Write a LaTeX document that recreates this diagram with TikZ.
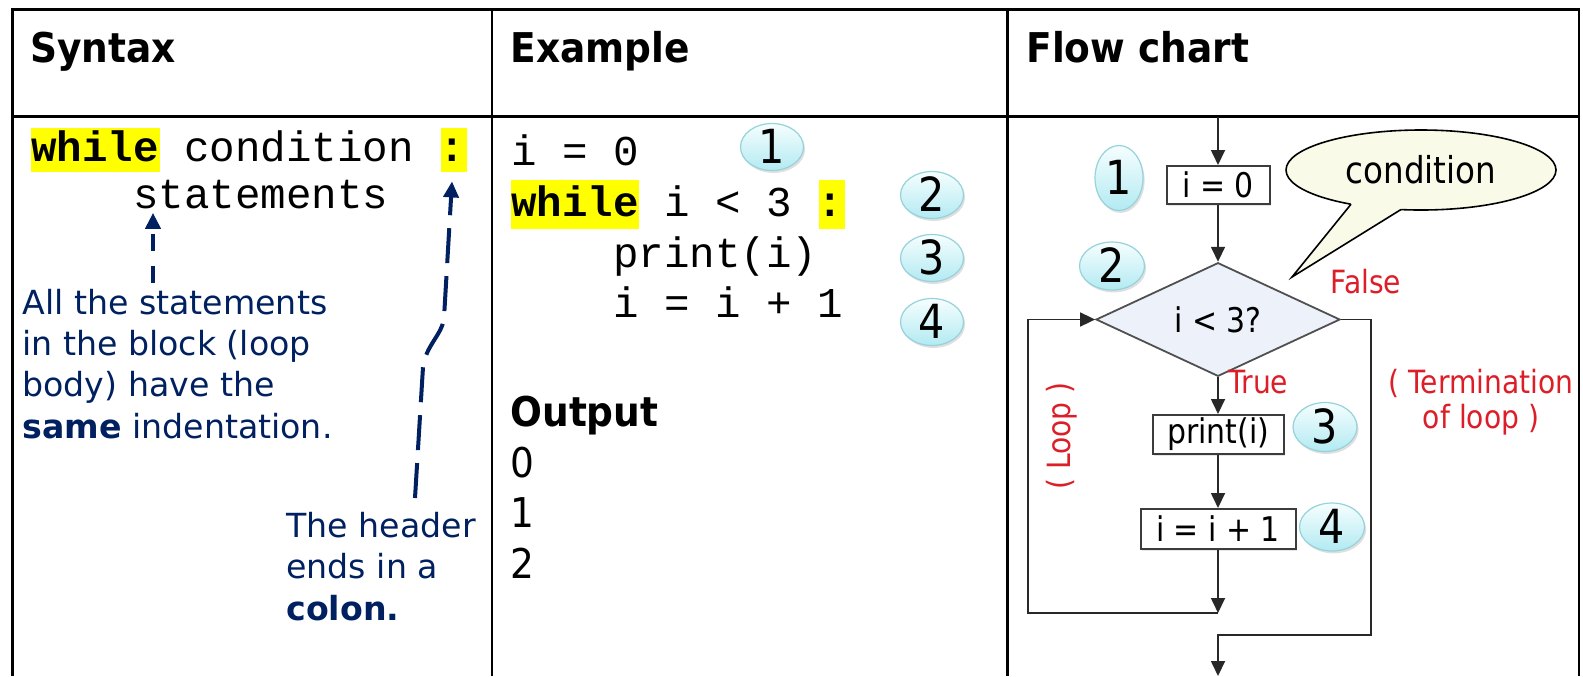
\documentclass[tikz,border=0pt]{standalone}
\usepackage{fontspec}
\setmainfont{DejaVu Sans}
\newfontfamily\headfont{DejaVu Sans}[FakeStretch=0.915]
\newfontfamily\chartfont{DejaVu Sans}[FakeStretch=0.88]
\newfontfamily\codefont{Liberation Mono}
\usetikzlibrary{arrows.meta,shapes.geometric,shadows,calc}

\definecolor{navy}{RGB}{0,32,96}
\definecolor{fcred}{RGB}{220,30,40}
\definecolor{hl}{RGB}{255,255,0}
\definecolor{badgetop}{RGB}{246,254,254}
\definecolor{badgebot}{RGB}{178,234,242}
\definecolor{badgeline}{RGB}{150,210,218}
\definecolor{cream}{RGB}{250,250,232}
\definecolor{diafill}{RGB}{236,241,250}
\definecolor{flowline}{RGB}{40,40,40}
\definecolor{boxline}{RGB}{60,60,60}

\begin{document}
\begin{tikzpicture}[x=0.5pt,y=-0.5pt,
  tbl/.style={line width=1.3pt,black},
  hd/.style={anchor=base west,inner sep=0,font=\headfont\bfseries\fontsize{20.5pt}{24pt}\selectfont},
  code/.style={anchor=base west,inner sep=0,font=\codefont\fontsize{21.25pt}{25pt}\selectfont},
  hlbox/.style={fill=hl,inner sep=0,draw=none},
  note/.style={anchor=base west,inner sep=0,align=left,text=navy,font=\fontsize{16.6pt}{20.65pt}\selectfont},
  ptr/.style={navy,line width=2pt,-{Triangle[length=8pt,width=7.5pt]}},
  badge/.style={ellipse,draw=badgeline,line width=0.6pt,top color=badgetop,bottom color=badgebot,
    inner sep=0,font=\chartfont\fontsize{23.5pt}{24pt}\selectfont,text height=16.5pt,text depth=0pt,
    drop shadow={opacity=0.25,shadow xshift=0.8pt,shadow yshift=-1.2pt}},
  wide/.style={minimum width=31.5pt,minimum height=23.5pt},
  fcbox/.style={rectangle,draw=boxline,line width=1pt,fill=white,inner sep=0,
    font=\chartfont\fontsize{17pt}{18pt}\selectfont,
    drop shadow={opacity=0.2,shadow xshift=0.8pt,shadow yshift=-0.8pt}},
  decision/.style={diamond,draw=boxline!90,line width=0.9pt,fill=diafill,inner sep=0,
    font=\chartfont\fontsize{17pt}{18pt}\selectfont},
  flow/.style={draw=flowline,line width=0.85pt},
  flowarr/.style={flow,-{Triangle[length=7.5pt,width=7pt]}},
  lbl/.style={text=fcred,inner sep=0,font=\chartfont\fontsize{16pt}{17.5pt}\selectfont}
]
\useasboundingbox (0,0) rectangle (1583,676);

% ---------- table frame ----------
\draw[tbl,line join=miter] (12.5,676) |- (1579,9.5) -- (1579,676);
\draw[tbl] (12.5,116.7) -- (1579,116.7);
\draw[tbl] (492,9.5) -- (492,676);
\draw[tbl] (1007.5,9.5) -- (1007.5,676);

\node[hd] (hsyn) at (30,62) {Syntax};
\node[hd] (hex) at (510,62) {Example};
\node[hd] (hfc) at (1026,62) {Flow chart};

% ---------- syntax column ----------
\node[hlbox,minimum width=64.5pt,minimum height=22pt] (kw1) at (95.5,150) {};
\node[hlbox,minimum width=13pt,minimum height=22pt] (col1) at (454,150) {};
\node[code] (syn1) at (31,161) {\textbf{while} condition \textbf{:}};
\node[code] (syn2) at (133,208) {statements};

% multi-line notes are anchored on the baseline of their last line
\node[note] (body) at (22,438) {All the statements\\in the block (loop\\body) have the\\\textbf{same} indentation.};
\node[note] (colnote) at (286,620) {The header\\ends in a\\\textbf{colon.}};

\coordinate (p1) at (153,283);
\draw[ptr,dash pattern=on 8.5pt off 7.5pt] (p1) -- ($(p1 |- syn2.south)+(0,4)$);
\coordinate (p2) at (415,498);
\draw[ptr,dash pattern=on 17.5pt off 6.5pt] (p2) -- (423,367) .. controls (426,345) and (442,335) .. (444,318) -- ($(col1.south)+(-2,9)$);

% ---------- example column ----------
\node[hlbox,minimum width=64pt,minimum height=24.5pt] (kw2) at (575,204.5) {};
\node[hlbox,minimum width=13pt,minimum height=24.5pt] (col2) at (832,204.5) {};
\node[code] (ex1) at (511,165) {i = 0};
\node[code] (ex2) at (511,216) {\textbf{while} i < 3 \textbf{:}};
\node[code] (ex3) at (613,267) {print(i)};
\node[code] (ex4) at (613,317) {i = i + 1};

\node[badge,wide] (e1) at (772,147) {1};
\node[badge,wide] (e2) at (932,195) {2};
\node[badge,wide] (e3) at (932,258) {3};
\node[badge,wide] (e4) at (932,322) {4};

\node[anchor=base west,inner sep=0,align=left,font=\headfont\fontsize{20.5pt}{25.25pt}\selectfont] (out) at (510,578) {\textbf{Output}\\0\\1\\2};

% ---------- flow chart column ----------
\coordinate (fctop) at (1218,116.7);
\node[fcbox,minimum width=51.5pt,minimum height=19pt] (s0) at (1218,185) {i = 0};
\node[decision,minimum width=122pt,minimum height=46.5pt] (cond) at (1218,319.5) {i < 3?};
\node[fcbox,minimum width=65.5pt,minimum height=19.5pt] (s1) at (1218,434.5) {print(i)};
\node[fcbox,minimum width=77.5pt,minimum height=20pt] (s2) at (1218,529) {i = i + 1};
\coordinate (join) at (1218,613);
\coordinate (lb) at (1028,613);
\coordinate (fr) at (1371,635);
\coordinate (fm) at (1218,635);
\coordinate (fend) at (1218,676);

\draw[flowarr] (fctop) -- (s0);
\draw[flowarr] (s0) -- (cond);
\draw[flowarr] (cond) -- (s1);
\draw[flowarr] (s1) -- (s2);
\draw[flowarr] (s2) -- (join);
\draw[flowarr] (join) -- (lb) |- (cond.west);
\draw[flowarr] (cond.east) -| (fr) -- (fm) -- (fend);

\node[lbl,anchor=base west] (tlab) at (1228,393) {True};
\node[lbl,anchor=base west] (flab) at (1330,293) {False};
\node[lbl,anchor=base,align=center] (term) at (1481,428) {( Termination\\of loop )};
\node[lbl,rotate=90] (looplbl) at (1062,436) {( Loop )};

\node[badge,minimum width=24pt,minimum height=32.5pt] (c1) at (1119,178) {1};
\node[badge,minimum width=32.5pt,minimum height=24pt] (c2) at (1112,266) {2};
\node[badge,minimum width=32pt,minimum height=24.5pt] (c3) at (1325,427) {3};
\node[badge,minimum width=32.5pt,minimum height=24pt] (c4) at (1332,527) {4};

% speech bubble with its tail
\node[ellipse,draw,line width=0.8pt,fill=cream,inner sep=0,minimum width=135pt,minimum height=40pt,
  font=\chartfont\fontsize{18.5pt}{20pt}\selectfont] (bubble) at (1421,170) {condition};
\coordinate (tip) at (1292,277);
\coordinate (ta) at ($(bubble.center)+(-70,34.2)$);
\coordinate (tb) at ($(bubble.center)+(-20,39.5)$);
\fill[cream] (ta) -- (tip) -- (tb) -- ($(tb)+(0,-8)$) -- ($(ta)+(0,-8)$) -- cycle;
\draw[line width=0.8pt,line join=miter] (ta) -- (tip) -- (tb);
\end{tikzpicture}
\end{document}
